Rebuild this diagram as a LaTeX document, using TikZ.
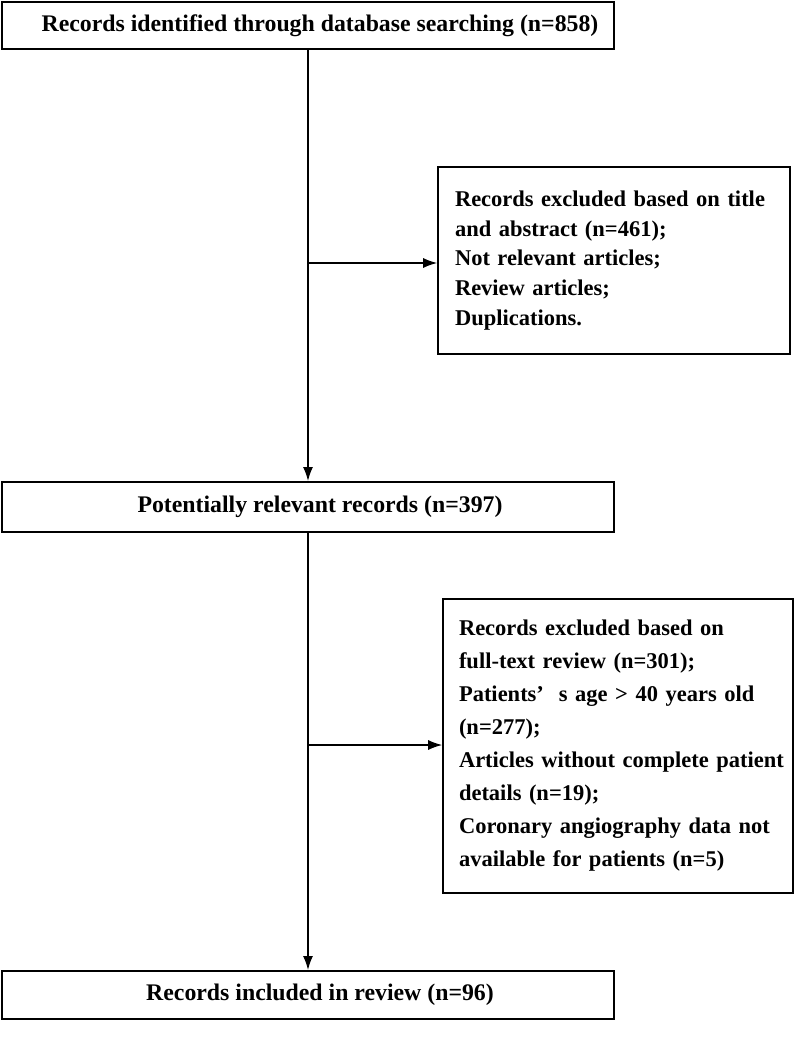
\documentclass[tikz,border=0pt]{standalone}
\usepackage{fontspec}
\setmainfont{Liberation Serif}
\usetikzlibrary{arrows.meta}
\begin{document}
\begin{tikzpicture}[x=1pt,y=-1pt,
  mainbox/.style={draw, line width=2pt, minimum width=612pt, inner sep=0pt,
    font=\fontsize{23.8}{27}\selectfont\bfseries},
  exbox/.style={draw, line width=1.6pt, inner ysep=0pt, align=left,
    font=\fontsize{22.5}{#1}\selectfont\bfseries},
  conn/.style={line width=1.4pt, -{Latex[length=14pt,width=10pt]}}]
\useasboundingbox (0,0) rectangle (800,1059);
\fill[white] (0,0) rectangle (800,1059);
\node[mainbox, minimum height=47pt] (b1) at (308,25.5) {\hspace*{24pt}Records identified through database searching (n=858)};
\node[mainbox, minimum height=50pt] (b2) at (308,507) {\hspace*{24pt}Potentially relevant records (n=397)};
\node[mainbox, minimum height=48pt] (b3) at (308,995) {\hspace*{24pt}Records included in review (n=96)};
\node[exbox=29.7, minimum height=187pt, inner xsep=17pt, text width=318pt] (e1) at (614,260.5)
  {\mbox{Records excluded based on title}\\
   \mbox{and abstract (n=461);}\\
   \mbox{Not relevant articles;}\\
   \mbox{Review articles;}\\
   \mbox{Duplications.}};
\node[exbox=33, minimum height=294pt, inner xsep=16pt, text width=318pt] (e2) at (618,746)
  {\mbox{Records excluded based on}\\
   \mbox{full-text review (n=301);}\\
   \mbox{Patients’\ \ s age > 40 years old}\\
   \mbox{(n=277);}\\
   \mbox{Articles without complete patient}\\
   \mbox{details (n=19);}\\
   \mbox{Coronary angiography data not}\\
   \mbox{available for patients (n=5)}};
\draw[conn] (b1.south) -- (b2.north);
\draw[conn] (b2.south) -- (b3.north);
\coordinate (j1) at (308,263);
\coordinate (j2) at (308,745);
\draw[conn] (j1) -- (j1 -| e1.west);
\draw[conn] (j2) -- (j2 -| e2.west);
\end{tikzpicture}
\end{document}
